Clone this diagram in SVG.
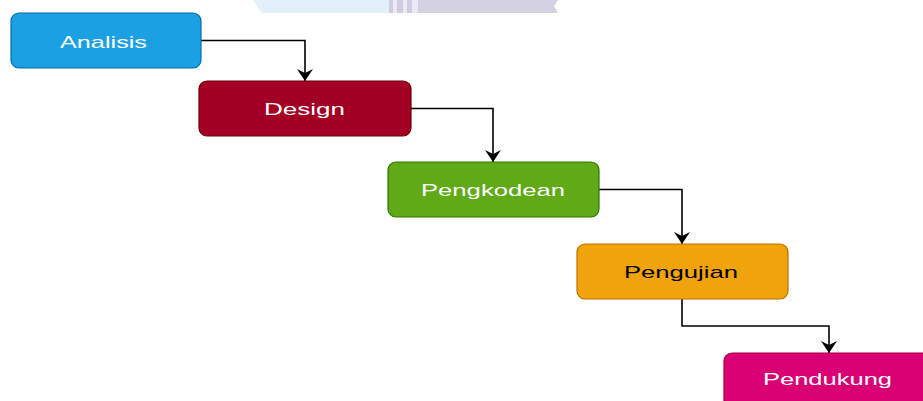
<svg xmlns="http://www.w3.org/2000/svg" width="923" height="401" viewBox="0 0 923 401">
<defs>
<style>
.box{stroke-width:1.2}
.lbl{font-family:"Liberation Sans",Arial,sans-serif;font-size:17px;text-anchor:middle}
.edge{fill:none;stroke:#000;stroke-width:1.6}
</style>
<marker id="arr" markerWidth="14" markerHeight="16" refX="12" refY="8" orient="auto" markerUnits="userSpaceOnUse">
<path d="M0,0 L12,8 L0,16 L4,8 Z" fill="#000"/>
</marker>
</defs>
<rect width="923" height="401" fill="#ffffff"/>
<g id="watermark">
<polygon points="253,0 388,0 388,13 262,13" fill="#e1f0f9"/>
<rect x="388" y="0" width="30" height="13" fill="#ece9f2"/>
<rect x="389" y="0" width="4" height="13" fill="#cfcbe0"/>
<rect x="397" y="0" width="6" height="13" fill="#cfcbe0"/>
<rect x="407" y="0" width="5" height="13" fill="#cfcbe0"/>
<polygon points="418,0 558,0 554,6 558,13 418,13" fill="#d4d1e3"/>
</g>
<g id="connectors">
<path class="edge" d="M201,40.5 H305 V81" marker-end="url(#arr)"/>
<path class="edge" d="M411,108.5 H493 V162" marker-end="url(#arr)"/>
<path class="edge" d="M599,189.5 H682 V244" marker-end="url(#arr)"/>
<path class="edge" d="M682,299 V326 H829 V353" marker-end="url(#arr)"/>
</g>
<g id="analisis">
<rect class="box" x="11" y="13" width="190" height="55" rx="8" fill="#1ba1e2" stroke="#006eaf"/>
<text class="lbl" x="103.5" y="47.5" fill="#ffffff" textLength="87" lengthAdjust="spacingAndGlyphs">Analisis</text>
</g>
<g id="design">
<rect class="box" x="199" y="81" width="212" height="55" rx="8" fill="#a20025" stroke="#6f0000"/>
<text class="lbl" x="304.5" y="115" fill="#ffffff" textLength="81" lengthAdjust="spacingAndGlyphs">Design</text>
</g>
<g id="pengkodean">
<rect class="box" x="388" y="162" width="211" height="55" rx="8" fill="#60a917" stroke="#2d7600"/>
<text class="lbl" x="493" y="196" fill="#ffffff" textLength="144" lengthAdjust="spacingAndGlyphs">Pengkodean</text>
</g>
<g id="pengujian">
<rect class="box" x="577" y="244" width="211" height="55" rx="8" fill="#f0a30a" stroke="#bd7000"/>
<text class="lbl" x="681" y="277.5" fill="#000000" textLength="114" lengthAdjust="spacingAndGlyphs">Pengujian</text>
</g>
<g id="pendukung">
<rect class="box" x="724" y="353" width="211" height="55" rx="8" fill="#d80073" stroke="#a50040"/>
<text class="lbl" x="827.5" y="385" fill="#ffffff" textLength="129" lengthAdjust="spacingAndGlyphs">Pendukung</text>
</g>
</svg>
